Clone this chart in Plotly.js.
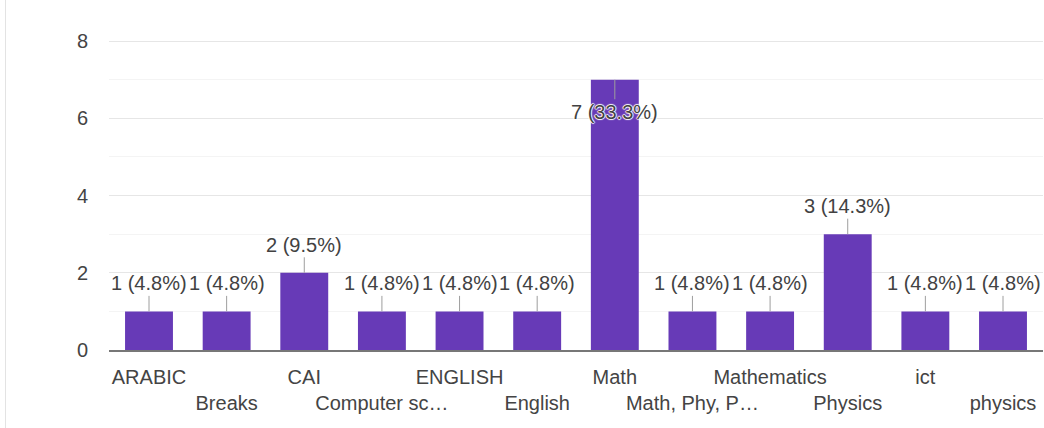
<!DOCTYPE html>
<html>
<head>
<meta charset="utf-8">
<script src="https://cdn.plot.ly/plotly-3.0.1.min.js"></script>
<style>
  html, body { margin: 0; padding: 0; background: #fff; }
  #wrap { position: relative; width: 1044px; height: 428px; }
  #chart { width: 1044px; height: 428px; }
  #edge { position: absolute; left: 5px; top: 0; width: 1px; height: 428px; background: #e3e3e3; }
</style>
</head>
<body>
<div id="wrap"><div id="chart"></div><div id="edge"></div></div>
<script>
const categories = ["ARABIC", "Breaks", "CAI", "Computer sc…", "ENGLISH", "English",
                    "Math", "Math, Phy, P…", "Mathematics", "Physics", "ict", "physics"];
const counts = [1, 1, 2, 1, 1, 1, 7, 1, 1, 3, 1, 1];
const yTicks = [0, 2, 4, 6, 8];

const total = counts.reduce((a, b) => a + b, 0);
const labels = counts.map(v => v + " (" + (v / total * 100).toFixed(1) + "%)");
const tickText = categories.map((c, i) => (i % 2 === 1 ? "<br>" + c : c));

const FONT = '"Liberation Sans", Arial, sans-serif';
const yMax = 8;

const annotations = categories.map((c, i) => {
  const inside = counts[i] >= yMax - 1.5;
  return {
    x: c, y: counts[i], xref: "x", yref: "y",
    text: labels[i],
    showarrow: true, arrowhead: 0, arrowwidth: 1, arrowcolor: "#9e9e9e",
    ax: 0, ay: inside ? 32 : -28,
    font: { family: FONT, size: 20, color: "#424242",
            shadow: inside ? "1px 0 1px #fff, -1px 0 1px #fff, 0 1px 1px #fff, 0 -1px 1px #fff" : "none" }
  };
});

const trace = {
  type: "bar",
  x: categories,
  y: counts,
  marker: { color: "#673ab7" },
  hoverinfo: "none"
};

const layout = {
  width: 1044, height: 428,
  margin: { l: 109, r: 1, t: 40, b: 78 },
  paper_bgcolor: "#fff", plot_bgcolor: "#fff",
  bargap: 0.383,
  showlegend: false,
  font: { family: FONT, size: 20, color: "#444" },
  xaxis: {
    type: "category",
    tickmode: "array", tickvals: categories, ticktext: tickText,
    tickangle: 0, ticks: "", showgrid: false,
    showline: true, linecolor: "#777", linewidth: 1.5,
    tickfont: { family: FONT, size: 20, color: "#444" },
    ticklabelstandoff: 8,
    automargin: false
  },
  yaxis: {
    range: [0, yMax + 0.03], tickmode: "array", tickvals: yTicks,
    showgrid: true, gridcolor: "#e6e6e6", gridwidth: 1,
    minor: { dtick: 1, showgrid: true, gridcolor: "#f4f4f4", gridwidth: 1 },
    zeroline: false, showline: false, ticks: "",
    ticklabelstandoff: 20,
    tickfont: { family: FONT, size: 20, color: "#444" },
    automargin: false
  },
  annotations: annotations
};

Plotly.newPlot("chart", [trace], layout, { displayModeBar: false, staticPlot: true });
</script>
</body>
</html>
